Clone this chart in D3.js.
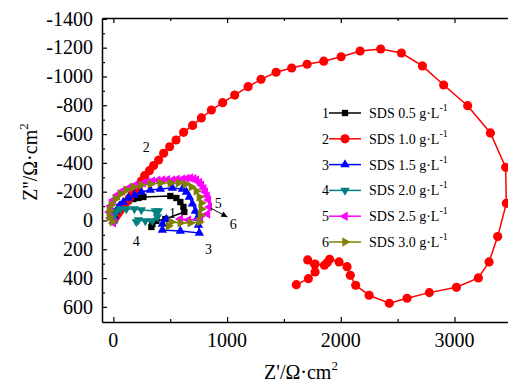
<title>Nyquist SDS</title>
<script src="https://d3js.org/d3.v7.min.js"></script>
<style>
  body { margin: 0; background: #fff; }
  text { font-family: "Liberation Serif", "Times New Roman", serif; }
</style>
<body>
<div id="plot"></div>
<script>
// Z' , Z'' (Ohm cm2)
var sds05 = [[0,-3],[9,-38],[26,-66],[53,-94],[88,-115],[132,-135],[176,-149],[220,-156],[264,-163],
  [501,-170],[554,-156],[589,-128],[616,-94],[624,-59],[457,-10],[378,3],[343,24],[334,45]];
var sds10 = [[9,-10],[26,-31],[44,-52],[62,-73],[88,-101],[114,-128],[141,-156],[167,-184],[193,-212],
  [220,-240],[246,-274],[275,-311],[317,-346],[354,-381],[398,-420],[442,-467],[495,-512],[551,-559],
  [618,-612],[697,-660],[774,-712],[862,-767],[961,-818],[1067,-871],[1185,-929],[1299,-980],
  [1431,-1029],[1568,-1059],[1704,-1085],[1850,-1106],[2003,-1137],[2170,-1177],[2351,-1191],
  [2533,-1163],[2718,-1073],[2905,-941],[3116,-797],[3316,-608],[3450,-369],[3456,-119],[3380,112],
  [3304,288],[3210,399],[3017,464],[2779,501],[2583,540],[2427,575],[2249,519],[2131,450],[2084,381],
  [2055,321],[1985,288],[1902,269],[1880,293],[1856,311],[1774,302],[1709,274],[1774,358],[1715,404],
  [1609,446]];
var sds15 = [[0,3],[9,-31],[26,-66],[53,-101],[88,-128],[132,-156],[185,-177],[246,-198],[325,-212],
  [413,-219],[519,-226],[607,-219],[642,-198],[668,-163],[695,-115],[721,-66],[739,-17],[748,31],
  [756,87],[589,73],[431,66],[431,24],[466,-10]];
var sds20 = [[0,3],[9,-38],[26,-66],[62,-80],[114,-80],[185,-80],[246,-73],[369,-66],[396,-66],
  [387,-24],[343,3],[281,3],[220,-3],[202,10]];
var sds25 = [[0,17],[-26,-17],[-35,-59],[-26,-101],[0,-142],[35,-177],[79,-205],[132,-226],[193,-247],
  [264,-260],[300,-268],[343,-274],[390,-279],[431,-281],[475,-284],[519,-281],[560,-286],[607,-288],
  [645,-292],[677,-295],[705,-290],[730,-281],[755,-265],[774,-247],[795,-222],[809,-198],[825,-170],
  [836,-142],[844,-94],[827,-45],[765,-10],[660,-3],[589,-10]];
var sds30 = [[-9,10],[-35,-24],[-35,-66],[-18,-108],[18,-149],[62,-184],[114,-212],[176,-233],
  [246,-247],[325,-253],[413,-260],[501,-260],[572,-260],[633,-253],[686,-233],[730,-205],[756,-163],
  [774,-122],[774,-80],[765,-38],[756,10],[677,17],[589,17],[510,10],[484,38]];

var seriesNames = ["SDS 0.5 g\u00b7L", "SDS 1.0 g\u00b7L", "SDS 1.5 g\u00b7L", "SDS 2.0 g\u00b7L", "SDS 2.5 g\u00b7L", "SDS 3.0 g\u00b7L"];
var xTicks = [0, 1000, 2000, 3000];
var xTickLabels = ["0", "1000", "2000", "3000"];
var yTicks = [-1400, -1200, -1000, -800, -600, -400, -200, 0, 200, 400, 600];
var yTickLabels = ["-1400", "-1200", "-1000", "-800", "-600", "-400", "-200", "0", "200", "400", "600"];
// curve numbers written next to the curves, [label, Z', Z'']
var curveLabels = [["1", 519, -52], ["2", 290, -510], ["3", 836, 198], ["4", 202, 142], ["5", 923, -122], ["6", 1055, 24]];
var arrowPts = [[853, -87], [1003, -24]];

var width = 508, height = 385;
var x = d3.scaleLinear().domain([-100, 3600]).range([102, 522.7]);
var y = d3.scaleLinear().domain([-1406, 705]).range([18, 322]);

var svg = d3.select("#plot").append("svg")
  .attr("width", width).attr("height", height);

svg.append("defs").append("marker")
  .attr("id", "arr").attr("viewBox", "0 0 10 10").attr("refX", 10).attr("refY", 5)
  .attr("markerWidth", 8).attr("markerHeight", 6).attr("orient", "auto")
  .attr("markerUnits", "userSpaceOnUse")
  .append("path").attr("d", "M0,0L10,5L0,10Z").attr("fill", "#000");

function ticksOnly(g, w) {
  g.selectAll("text").remove();
  g.select(".domain").attr("stroke-width", w);
  g.selectAll(".tick line").attr("stroke-width", 1.2);
}

// x axes (bottom, top mirror) - ticks point inward
svg.append("g").attr("transform", "translate(0,322)")
  .call(d3.axisBottom(x).tickValues(xTicks).tickSize(-5).tickSizeOuter(0))
  .call(ticksOnly, 1.5);
svg.append("g").attr("transform", "translate(0,322)")
  .call(d3.axisBottom(x).tickValues([500, 1500, 2500, 3500]).tickSize(-3).tickSizeOuter(0))
  .call(ticksOnly, 0);
svg.append("g").attr("transform", "translate(0,18)")
  .call(d3.axisTop(x).tickValues(xTicks).tickSize(-5).tickSizeOuter(0))
  .call(ticksOnly, 1.5);
svg.append("g").attr("transform", "translate(0,18)")
  .call(d3.axisTop(x).tickValues([500, 1500, 2500, 3500]).tickSize(-3).tickSizeOuter(0))
  .call(ticksOnly, 0);

// y axis
svg.append("g").attr("transform", "translate(102,0)")
  .call(d3.axisLeft(y).tickValues(yTicks).tickSize(-5).tickSizeOuter(0))
  .call(ticksOnly, 1.5);
svg.append("g").attr("transform", "translate(102,0)")
  .call(d3.axisLeft(y).tickValues(d3.range(-1300, 700, 200)).tickSize(-3).tickSizeOuter(0))
  .call(ticksOnly, 0);

// tick labels
svg.selectAll("text.xl").data(xTicks).enter().append("text").attr("class", "xl")
  .attr("x", function(d) { return x(d); }).attr("y", 347)
  .attr("text-anchor", "middle").attr("font-size", 20)
  .text(function(d, i) { return xTickLabels[i]; });
svg.selectAll("text.yl").data(yTicks).enter().append("text").attr("class", "yl")
  .attr("x", 93).attr("y", function(d) { return y(d); }).attr("dy", "0.34em")
  .attr("text-anchor", "end").attr("font-size", 20)
  .text(function(d, i) { return yTickLabels[i]; });

// axis titles
var yt = svg.append("text").attr("transform", "translate(37,162) rotate(-90)")
  .attr("text-anchor", "middle").attr("font-size", 20);
yt.append("tspan").text("Z''/\u03a9\u00b7cm");
yt.append("tspan").attr("font-size", 13).attr("dy", -9).text("2");
var xtl = svg.append("text").attr("x", 301).attr("y", 379)
  .attr("text-anchor", "middle").attr("font-size", 20);
xtl.append("tspan").text("Z'/\u03a9\u00b7cm");
xtl.append("tspan").attr("font-size", 13).attr("dy", -9).text("2");

var series = [
  {data: sds05, color: "#000000", sym: d3.symbolSquare, size: 40, rot: 0},
  {data: sds10, color: "#ff0000", sym: d3.symbolCircle, size: 66, rot: 0},
  {data: sds15, color: "#0000ff", sym: d3.symbolTriangle, size: 38, rot: 0},
  {data: sds20, color: "#008080", sym: d3.symbolTriangle, size: 38, rot: 180},
  {data: sds25, color: "#ff00ff", sym: d3.symbolTriangle, size: 38, rot: -90},
  {data: sds30, color: "#808000", sym: d3.symbolTriangle, size: 38, rot: 90}
];

var line = d3.line().x(function(d) { return x(d[0]); }).y(function(d) { return y(d[1]); });

series.forEach(function(s) {
  var g = svg.append("g");
  g.append("path").datum(s.data).attr("d", line)
    .attr("fill", "none").attr("stroke", s.color).attr("stroke-width", 1.5);
  g.selectAll("path.pt").data(s.data).enter().append("path").attr("class", "pt")
    .attr("d", d3.symbol().type(s.sym).size(s.size))
    .attr("transform", function(d) { return "translate(" + x(d[0]) + "," + y(d[1]) + ") rotate(" + s.rot + ")"; })
    .attr("fill", s.color);
});

// curve numbers + arrow
svg.selectAll("text.cl").data(curveLabels).enter().append("text").attr("class", "cl")
  .attr("x", function(d) { return x(d[1]); }).attr("y", function(d) { return y(d[2]); })
  .attr("dy", "0.35em").attr("text-anchor", "middle").attr("font-size", 14).text(function(d) { return d[0]; });
svg.append("line")
  .attr("x1", x(arrowPts[0][0])).attr("y1", y(arrowPts[0][1]))
  .attr("x2", x(arrowPts[1][0])).attr("y2", y(arrowPts[1][1]))
  .attr("stroke", "#000").attr("stroke-width", 1).attr("marker-end", "url(#arr)");

// legend
var leg = svg.append("g");
series.forEach(function(s, i) {
  var ry = 113 + i * 25.8;
  leg.append("text").attr("x", 329).attr("y", ry).attr("dy", "0.35em")
    .attr("text-anchor", "end").attr("font-size", 14).text(i + 1);
  leg.append("line").attr("x1", 329).attr("x2", 361).attr("y1", ry).attr("y2", ry)
    .attr("stroke", s.color).attr("stroke-width", 1.5);
  leg.append("path").attr("d", d3.symbol().type(s.sym).size(s.size))
    .attr("transform", "translate(345," + ry + ") rotate(" + s.rot + ")").attr("fill", s.color);
  var t = leg.append("text").attr("x", 369).attr("y", ry).attr("dy", "0.35em").attr("font-size", 14);
  t.append("tspan").text(seriesNames[i]);
  t.append("tspan").attr("font-size", 10).attr("dy", -7).text("-1");
});
</script>
</body>
